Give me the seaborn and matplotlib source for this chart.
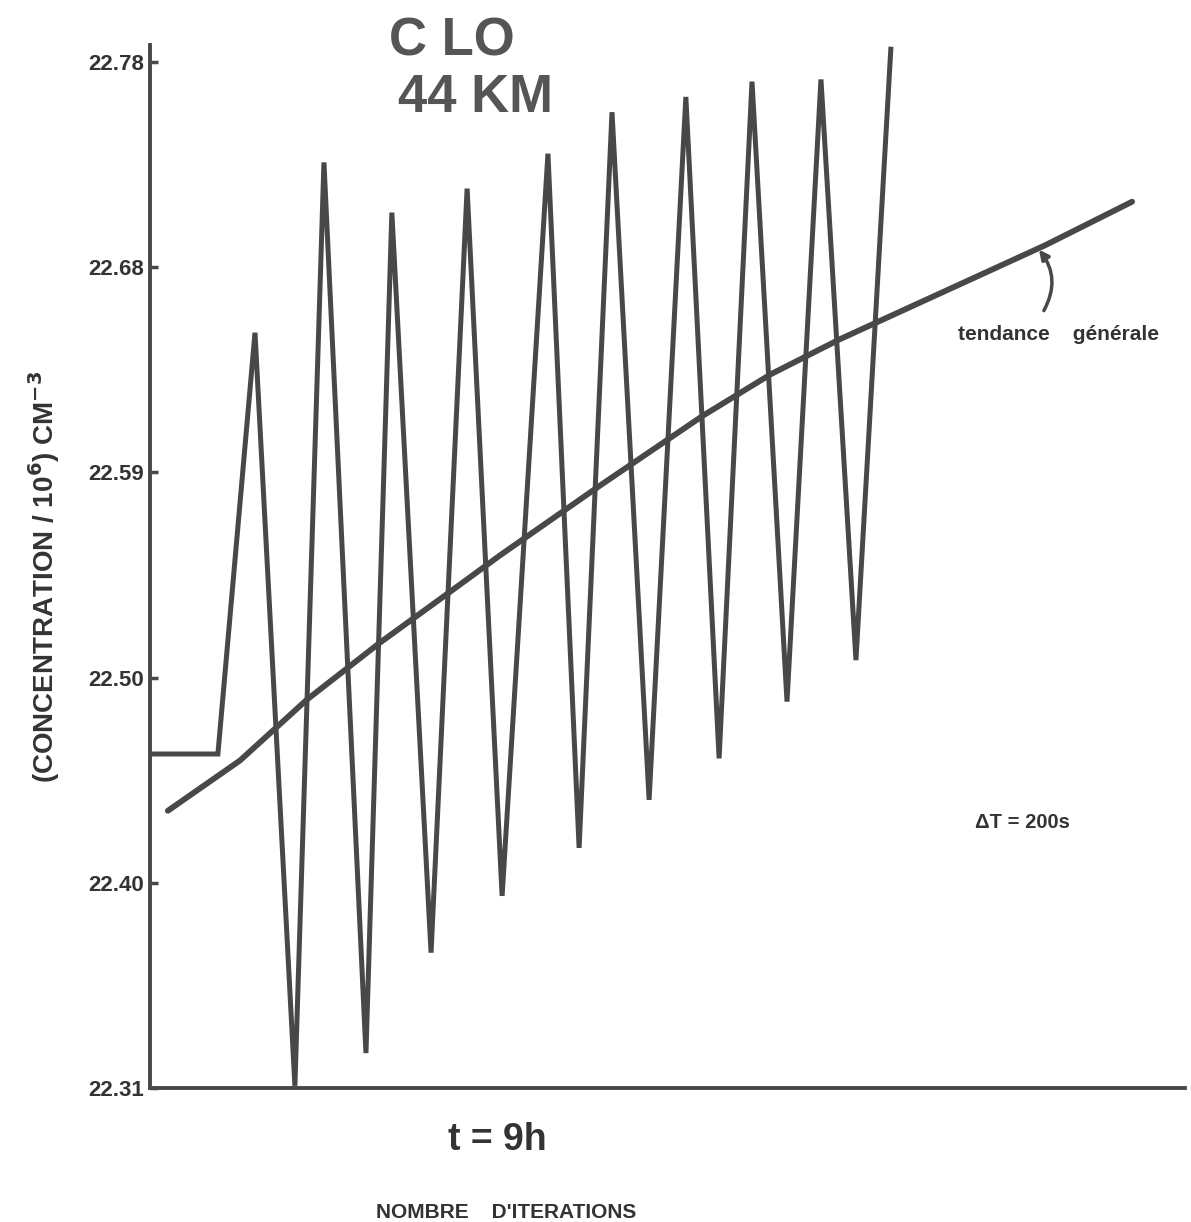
import matplotlib
matplotlib.use("Agg")
import matplotlib.pyplot as plt
import seaborn as sns
import pandas as pd
import numpy as np

# ---- data ----
# oscillating solution: iteration index vs concentration
osc_iter = [0.0, 1.94, 3.0, 4.14, 4.97, 6.17, 6.91, 8.03, 9.06, 10.06, 11.37,
            12.26, 13.2, 14.26, 15.31, 16.26, 17.2, 18.2, 19.17, 20.17, 21.17]
osc_conc = [22.463, 22.463, 22.656, 22.311, 22.734, 22.326, 22.711, 22.372,
            22.722, 22.398, 22.738, 22.420, 22.757, 22.442, 22.764, 22.461,
            22.771, 22.487, 22.772, 22.506, 22.787]
# general trend
trend_iter = [0.51, 2.57, 4.49, 6.57, 8.29, 10.0, 12.86, 15.8, 17.74, 19.71, 25.57, 28.06]
trend_conc = [22.437, 22.460, 22.488, 22.514, 22.534, 22.554, 22.586, 22.618,
              22.637, 22.653, 22.696, 22.716]
# y tick labels
ytick_labels = ["22.31", "22.40", "22.50", "22.59", "22.68", "22.78"]

osc = pd.DataFrame({"iter": osc_iter, "conc": osc_conc})
trend = pd.DataFrame({"iter": trend_iter, "conc": trend_conc})

sns.set_theme(style="white")
plt.rcParams["font.family"] = ["Liberation Sans", "DejaVu Sans"]
plt.rcParams["font.weight"] = "bold"

W, H = 1191, 1222
fig = plt.figure(figsize=(W / 100, H / 100), dpi=100)
fig.patch.set_facecolor("white")
ax = fig.add_axes([150 / W, (H - 1088) / H, (1185 - 150) / W, (1088 - 45) / H])

ink = "#484848"
txt = "#333333"
sns.lineplot(data=osc, x="iter", y="conc", ax=ax, sort=False, color=ink,
             linewidth=3.6, solid_joinstyle="miter", solid_capstyle="butt")
sns.lineplot(data=trend, x="iter", y="conc", ax=ax, sort=False, color=ink,
             linewidth=4.2, solid_capstyle="round")
for l in ax.lines:
    l.set_clip_on(False)

ax.set_xlim(0, (1185 - 150) / 35.0)
ylo, yhi = 22.31, 22.31 + (1088 - 45) * 0.47 / 1026
ax.set_ylim(ylo, yhi)

ax.set_yticks(np.linspace(22.31, 22.78, 6))
ax.set_yticklabels(ytick_labels, fontsize=16, fontweight="bold", color=txt)
ax.set_xticks([])
ax.tick_params(axis="y", direction="in", length=6, width=2.5, color=ink, pad=4, left=True)

for s in ["top", "right"]:
    ax.spines[s].set_visible(False)
for s in ["left", "bottom"]:
    ax.spines[s].set_color(ink)
    ax.spines[s].set_linewidth(2.8)

ax.set_xlabel("")
ax.set_ylabel("(CONCENTRATION / 10$^{\\mathbf{6}}$) CM$^{\\mathbf{-3}}$", fontsize=20,
              fontweight="bold", color=txt)
ax.yaxis.set_label_coords(-0.085, 0.49)

# titles & annotations
fig.text(452 / W, 1 - 42 / H, "C LO", ha="center", va="center", fontsize=38,
         fontweight="bold", color="#555555")
fig.text(476 / W, 1 - 98 / H, "44 KM", ha="center", va="center", fontsize=38,
         fontweight="bold", color="#555555")
fig.text(958 / W, 1 - 335 / H, "tendance    générale", ha="left", va="center",
         fontsize=15, fontweight="bold", color=txt)
fig.text(975 / W, 1 - 822 / H, "ΔT = 200s", ha="left", va="center",
         fontsize=14.5, fontweight="bold", color=txt)
fig.text(497 / W, 1 - 1140 / H, "t = 9h", ha="center", va="center",
         fontsize=27, fontweight="bold", color=txt)
fig.text(506 / W, 1 - 1213 / H, "NOMBRE    D'ITERATIONS", ha="center", va="center",
         fontsize=15, fontweight="bold", color=txt)

# curved arrow pointing at the trend line
ax.annotate("", xy=(25.35, 22.695), xytext=(25.5, 22.665),
            arrowprops=dict(arrowstyle="-|>", color=ink, lw=2.5,
                            connectionstyle="arc3,rad=0.35", mutation_scale=14))

fig.savefig("out.png", dpi=100, facecolor="white")
